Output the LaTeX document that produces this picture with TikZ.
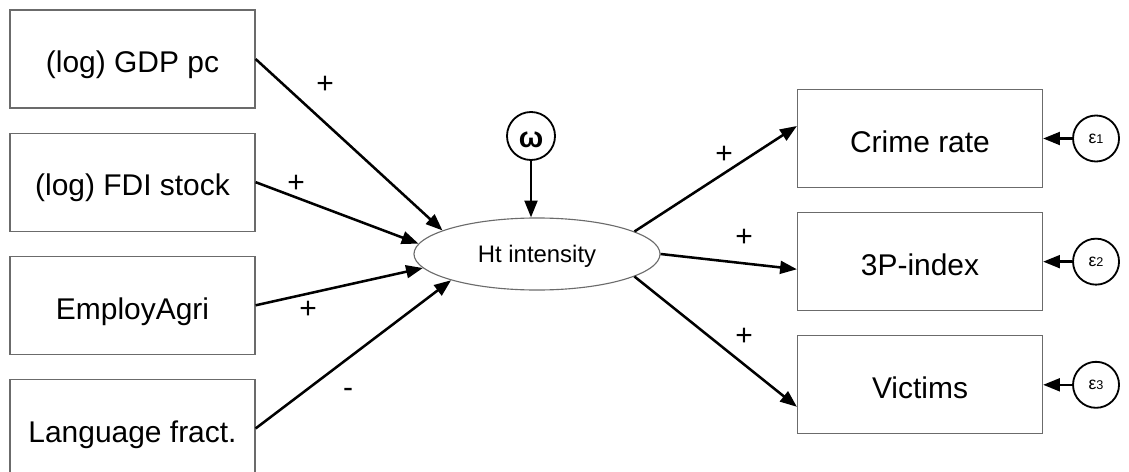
\documentclass[tikz,border=0pt]{standalone}
\usepackage{fontspec}
\setmainfont{Liberation Sans}
\usetikzlibrary{arrows.meta}
\usetikzlibrary{positioning}
\usetikzlibrary{shapes.geometric}
\definecolor{boxgray}{gray}{0.42}
\newcommand{\errlabel}[1]{{\fontsize{12.5}{14}\selectfont ε}{\fontsize{9}{10}\selectfont #1}}

\begin{document}
\begin{tikzpicture} [x=0.025cm, y=-0.025cm,
  obs/.style={draw=boxgray, line width=0.8pt, minimum width=6.125cm, minimum height=2.45cm, inner sep=0, text height=23.4pt, text depth=3.8pt, font=\fontsize{21.3}{25}\selectfont},
  lat/.style={ellipse, draw=boxgray, line width=0.8pt, minimum width=6.15cm, minimum height=1.8cm, inner sep=0, text height=15.3pt, text depth=3.6pt, font=\fontsize{17}{20}\selectfont},
  err/.style={circle, draw, line width=1.3pt, minimum size=1.15cm, inner sep=0},
  effect/.style={line width=1.8pt, -{Triangle[length=4.2mm, width=3.2mm]}},
  sgn/.style={anchor=base, inner sep=0, font=\fontsize{21.3}{25}\selectfont}]
\useasboundingbox (0,0) rectangle (1129,472);

% predictors
\node[obs] (gdp) at (132.5,59) {(log) GDP pc};
\node[obs, below=0.6cm of gdp] (fdi) {(log) FDI stock};
\node[obs, below=0.6cm of fdi] (agri) {EmployAgri};
\node[obs, below=0.6cm of agri] (lang) {Language fract.};

% latent variable
\node[lat] (ht) at (537,254) {Ht intensity};
\node[err, minimum size=1.2cm, text height=16.5pt, font=\fontsize{20.6}{24}\selectfont\bfseries] (omega) at (531,136) {ω};

% indicators
\node[obs] (crime) at (920,138.5) {Crime rate};
\node[obs, below=0.6cm of crime] (pindex) {3P-index};
\node[obs, below=0.6cm of pindex] (victims) {Victims};

\node[err, right=0.725cm of crime] (e1) {\errlabel{1}};
\node[err, right=0.725cm of pindex] (e2) {\errlabel{2}};
\node[err, right=0.725cm of victims] (e3) {\errlabel{3}};

% paths
\draw[effect] (gdp.east) -- (ht.166);
\draw[effect] (fdi.east) -- (ht.175);
\draw[effect] (agri.east) -- (ht.187);
\draw[effect] (lang.east) -- (ht.197);
\draw[effect] (omega.south) -- (omega.south |- ht.north);

\draw[effect] (ht.13) -- ([yshift=0.3125cm]crime.west);
\draw[effect] (ht.0) -- ([yshift=-0.19cm]pindex.west);
\draw[effect] (ht.-13) -- ([yshift=-0.55cm]victims.west);

\draw[effect] (e1) -- (crime.east);
\draw[effect] (e2) -- (pindex.east);
\draw[effect] (e3) -- (victims.east);

% signs
\node[sgn] (s1) at (325,94) {+};
\node[sgn] (s2) at (296,192) {+};
\node[sgn] (s3) at (308,318) {+};
\node[sgn] (s4) at (348,397) {-};
\node[sgn] (s5) at (724,163) {+};
\node[sgn] (s6) at (744,246) {+};
\node[sgn] (s7) at (744,345) {+};
\end{tikzpicture}
\end{document}
